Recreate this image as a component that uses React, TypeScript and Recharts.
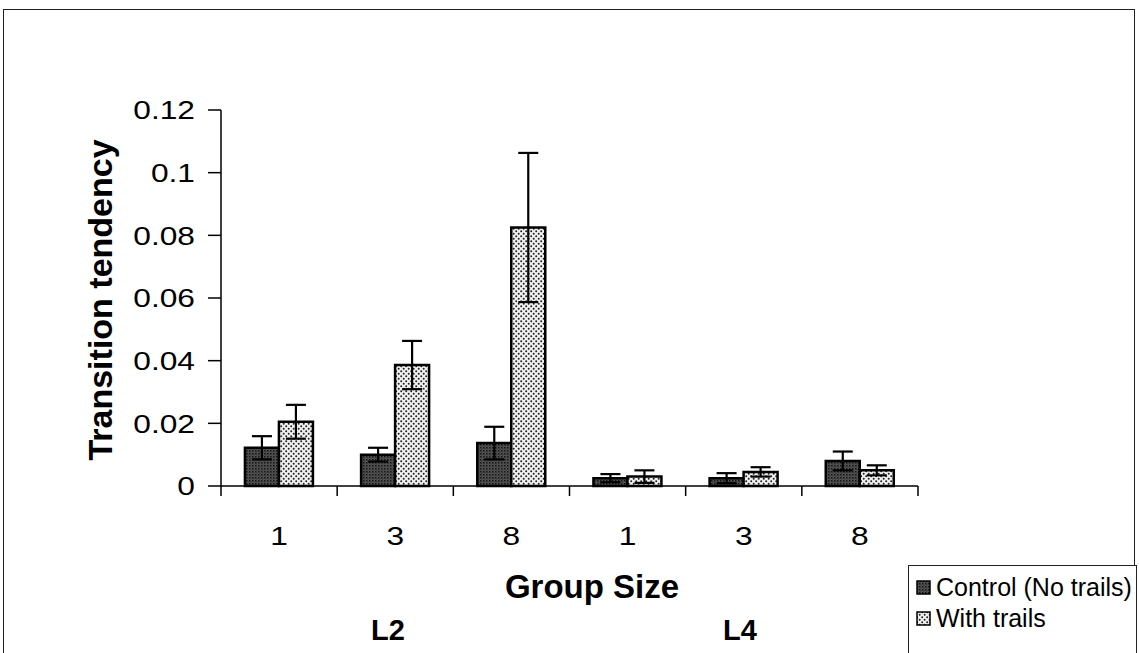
import { BarChart, Bar, XAxis, YAxis, ErrorBar } from "recharts";

// group sizes along the x axis, two light levels (L2, L4)
const groupSizes = ["1", "3", "8", "1", "3", "8"];
const levels = ["L2", "L2", "L2", "L4", "L4", "L4"];

const control = [0.0122, 0.01, 0.0137, 0.0025, 0.0025, 0.008];
const controlErr = [0.0037, 0.0022, 0.0052, 0.0013, 0.0016, 0.003];
const trails = [0.0205, 0.0386, 0.0825, 0.003, 0.0045, 0.005];
const trailsErr = [0.0054, 0.0077, 0.0238, 0.002, 0.0015, 0.0016];

const yTicks = [0, 0.02, 0.04, 0.06, 0.08, 0.1, 0.12];

const data = groupSizes.map((size, i) => ({
  key: `${levels[i]}-${size}`,
  size,
  control: control[i],
  controlErr: controlErr[i],
  trails: trails[i],
  trailsErr: trailsErr[i],
}));

const W = 1139;
const H = 653;
const PLOT_LEFT = 221;
const PLOT_RIGHT = 918;
const PLOT_TOP = 110;
const PLOT_BOTTOM = 486;
const Y_AXIS_W = 100;
const X_AXIS_H = 30;
const FONT = "'Liberation Sans', Arial, sans-serif";
const TICK_FONT = 26;
const TICK_STRETCH = 1.22;

const band = (PLOT_RIGHT - PLOT_LEFT) / groupSizes.length;

// category label in the middle, tick marks on the category boundaries
const GroupTick = (props: any) => {
  const { x, y, index } = props;
  const left = x - band / 2;
  const right = x + band / 2;
  return (
    <g>
      <line x1={left} y1={y} x2={left} y2={y + 10} stroke="#000" strokeWidth={1.5} />
      {index === groupSizes.length - 1 && (
        <line x1={right} y1={y} x2={right} y2={y + 10} stroke="#000" strokeWidth={1.5} />
      )}
      <text
        transform={`translate(${x} ${y + 59}) scale(${TICK_STRETCH} 1)`}
        textAnchor="middle"
        fontSize={TICK_FONT}
        fontFamily={FONT}
        fill="#000"
      >
        {groupSizes[index]}
      </text>
    </g>
  );
};

const ValueTick = (props: any) => {
  const { x, y, payload } = props;
  return (
    <text
      transform={`translate(${x} ${y}) scale(${TICK_STRETCH} 1)`}
      textAnchor="end"
      dy="0.355em"
      fontSize={TICK_FONT}
      fontFamily={FONT}
      fill="#000"
    >
      {String(payload.value)}
    </text>
  );
};

export default function App() {
  return (
    <div
      style={{
        position: "absolute",
        left: 0,
        top: 0,
        width: W,
        height: H,
        background: "#fff",
        overflow: "hidden",
        fontFamily: FONT,
      }}
    >
      <svg width={0} height={0} style={{ position: "absolute" }}>
        <defs>
          <pattern id="ctrlPat" width="3" height="3" patternUnits="userSpaceOnUse">
            <rect width="3" height="3" fill="#565656" />
            <rect x="0" y="0" width="1.5" height="1.5" fill="#111" />
            <rect x="1.5" y="1.5" width="1" height="1" fill="#1e1e1e" />
          </pattern>
          <pattern id="trailPat" width="5" height="5" patternUnits="userSpaceOnUse">
            <rect width="5" height="5" fill="#f0f0f0" />
            <circle cx="1.2" cy="1.2" r="1" fill="#222" />
            <circle cx="3.7" cy="3.7" r="1" fill="#222" />
          </pattern>
        </defs>
      </svg>

      {/* outer chart frame */}
      <div
        style={{
          position: "absolute",
          left: 3,
          top: 9,
          width: 1132,
          height: 700,
          border: "1.5px solid #222",
          boxSizing: "border-box",
        }}
      />

      <BarChart
        width={W}
        height={H}
        data={data}
        barCategoryGap="20.6%"
        barGap={0}
        margin={{
          top: PLOT_TOP,
          right: W - PLOT_RIGHT,
          bottom: H - PLOT_BOTTOM - X_AXIS_H,
          left: PLOT_LEFT - Y_AXIS_W,
        }}
        style={{ position: "absolute", left: 0, top: 0 }}
      >
        <XAxis
          dataKey="key"
          height={X_AXIS_H}
          interval={0}
          tickLine={false}
          tickSize={0}
          tickMargin={0}
          axisLine={{ stroke: "#000", strokeWidth: 1.5 }}
          tick={<GroupTick />}
        />
        <YAxis
          width={Y_AXIS_W}
          domain={[0, 0.12]}
          ticks={yTicks}
          interval={0}
          tickSize={13}
          tickMargin={13}
          axisLine={{ stroke: "#000", strokeWidth: 1.5 }}
          tickLine={{ stroke: "#000", strokeWidth: 1.5 }}
          tick={<ValueTick />}
        />
        <Bar
          dataKey="control"
          name="Control (No trails)"
          fill="url(#ctrlPat)"
          stroke="#000"
          strokeWidth={2.5}
          isAnimationActive={false}
        >
          <ErrorBar dataKey="controlErr" width={10} stroke="#000" strokeWidth={2.2} direction="y" />
        </Bar>
        <Bar
          dataKey="trails"
          name="With trails"
          fill="url(#trailPat)"
          stroke="#000"
          strokeWidth={2.5}
          isAnimationActive={false}
        >
          <ErrorBar dataKey="trailsErr" width={10} stroke="#000" strokeWidth={2.2} direction="y" />
        </Bar>
      </BarChart>

      {/* axis titles and level labels */}
      <svg
        width={W}
        height={H}
        style={{ position: "absolute", left: 0, top: 0, pointerEvents: "none" }}
      >
        <text
          transform="translate(112 300) rotate(-90)"
          textAnchor="middle"
          fontSize={34}
          fontWeight="bold"
          fontFamily={FONT}
          fill="#000"
        >
          Transition tendency
        </text>
        <text x={592} y={598} textAnchor="middle" fontSize={33} fontWeight="bold" fontFamily={FONT}>
          Group Size
        </text>
        <text x={388} y={640} textAnchor="middle" fontSize={29} fontWeight="bold" fontFamily={FONT}>
          L2
        </text>
        <text x={740} y={640} textAnchor="middle" fontSize={29} fontWeight="bold" fontFamily={FONT}>
          L4
        </text>
      </svg>

      {/* legend */}
      <div
        style={{
          position: "absolute",
          left: 908,
          top: 565,
          width: 229,
          height: 95,
          border: "1.5px solid #222",
          boxSizing: "border-box",
          background: "#fff",
          padding: "6px 0 0 7px",
          fontSize: 25,
          lineHeight: "31px",
          color: "#000",
        }}
      >
        {[
          { label: "Control (No trails)", fill: "url(#ctrlPat)" },
          { label: "With trails", fill: "url(#trailPat)" },
        ].map((item) => (
          <div key={item.label} style={{ display: "flex", alignItems: "center", whiteSpace: "nowrap" }}>
            <svg width={15} height={15} style={{ marginRight: 5 }}>
              <rect x={1} y={1} width={13} height={13} fill={item.fill} stroke="#000" strokeWidth={1.5} />
            </svg>
            {item.label}
          </div>
        ))}
      </div>
    </div>
  );
}
